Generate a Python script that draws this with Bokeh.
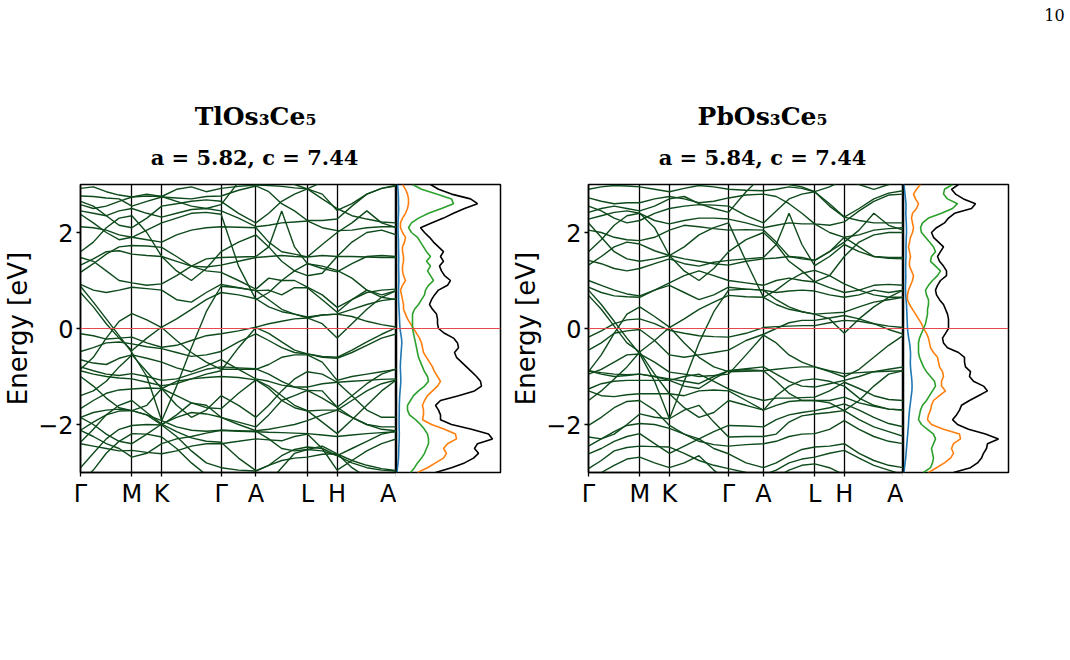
from bokeh.plotting import figure
from bokeh.models import Range1d, FixedTicker, Span, ColumnDataSource
from bokeh.layouts import column, row
from bokeh.embed import file_html
from bokeh.resources import INLINE
from bokeh.core.properties import value

# ---------------- data ----------------
k_labels = ["Γ", "M", "K", "Γ", "A", "L", "H", "A"]
tl_kticks = [0.0, 0.577, 0.911, 1.577, 1.968, 2.545, 2.879, 3.545]
pb_kticks = [0.0, 0.577, 0.911, 1.577, 1.970, 2.547, 2.880, 3.547]
tl_k = [0.0, 0.144, 0.289, 0.433, 0.577, 0.744, 0.911, 1.078, 1.244, 1.411, 1.577, 1.773,
        1.968, 2.112, 2.257, 2.401, 2.545, 2.712, 2.879, 3.045, 3.212, 3.378, 3.545]
pb_k = [0.0, 0.144, 0.289, 0.433, 0.577, 0.744, 0.911, 1.078, 1.244, 1.411, 1.577, 1.774,
        1.970, 2.114, 2.258, 2.403, 2.547, 2.714, 2.880, 3.047, 3.213, 3.380, 3.547]

# TlOs3Ce5 bands: energy (eV) at each k point of tl_k
tl_b01 = [2.92, 2.95, 2.85, 2.78, 2.74, 2.76, 2.75, 2.90, 2.95, 2.85, 2.92, 2.96, 2.99, 2.98, 2.96, 2.93, 2.91, 2.80, 2.46, 2.60, 2.80, 2.92, 2.99]
tl_b02 = [2.76, 2.75, 2.72, 2.70, 2.55, 2.65, 2.74, 2.72, 2.70, 2.75, 2.76, 2.88, 2.97, 2.85, 2.60, 2.45, 2.25, 2.25, 2.28, 2.55, 2.80, 2.92, 2.97]
tl_b03 = [2.58, 2.50, 2.55, 2.65, 2.74, 2.80, 2.75, 2.65, 2.55, 2.50, 2.58, 3.05, 3.30, 3.20, 3.10, 3.00, 2.91, 3.05, 3.20, 3.25, 3.30, 3.30, 3.30]
tl_b04 = [2.45, 2.40, 2.35, 2.45, 2.50, 2.40, 2.32, 2.40, 2.48, 2.50, 2.45, 2.30, 2.12, 2.15, 2.20, 2.22, 2.24, 2.10, 2.04, 2.05, 2.10, 2.12, 2.12]
tl_b05 = [2.38, 2.20, 2.00, 1.85, 1.90, 2.05, 2.20, 2.30, 2.40, 2.42, 2.38, 1.30, 0.60, 0.75, 1.00, 1.20, 1.35, 1.30, 1.21, 1.05, 0.80, 0.65, 0.60]
tl_b06 = [2.12, 2.10, 2.05, 1.95, 1.90, 1.85, 1.80, 1.95, 2.05, 2.10, 2.12, 2.11, 2.10, 1.80, 1.60, 1.55, 1.49, 1.75, 2.00, 2.20, 2.45, 2.20, 2.10]
tl_b07 = [1.48, 1.40, 1.20, 1.00, 0.95, 0.90, 0.93, 1.10, 1.30, 1.45, 1.48, 1.49, 1.50, 1.70, 2.45, 1.70, 1.35, 1.25, 1.18, 1.35, 1.50, 1.52, 1.50]
tl_b08 = [1.32, 1.45, 1.60, 1.62, 1.55, 1.52, 1.50, 1.40, 1.30, 1.28, 1.32, 1.40, 1.48, 1.50, 1.52, 1.50, 1.49, 1.52, 1.50, 1.50, 1.49, 1.48, 1.48]
tl_b09 = [1.17, 1.35, 1.55, 1.70, 1.73, 1.72, 1.69, 1.50, 1.30, 1.20, 1.17, 1.00, 0.82, 1.05, 1.00, 1.00, 0.86, 0.70, 0.44, 0.60, 0.75, 0.80, 0.82]
tl_b10 = [0.92, 0.80, 0.75, 0.80, 0.86, 0.83, 0.80, 0.60, 0.55, 0.75, 0.92, 0.85, 0.79, 0.80, 0.70, 0.85, 0.85, 0.60, 0.34, 0.60, 0.80, 0.70, 0.79]
tl_b11 = [0.75, 0.45, 0.10, -0.20, -0.46, -0.20, 0.03, 0.20, 0.40, 0.60, 0.75, 0.70, 0.62, 0.45, 0.35, 0.30, 0.24, 0.28, 0.30, 0.40, 0.50, 0.58, 0.62]
tl_b12 = [-0.11, -0.15, -0.22, -0.20, -0.18, -0.30, -0.39, -0.35, -0.25, -0.15, -0.11, -0.05, 0.03, 0.10, 0.15, 0.20, 0.22, 0.28, 0.30, 0.25, 0.15, 0.08, 0.03]
tl_b13 = [-0.48, -0.40, -0.30, -0.28, -0.32, -0.38, -0.42, -0.50, -0.58, -0.55, -0.48, -0.28, -0.11, -0.25, -0.40, -0.50, -0.53, -0.60, -0.62, -0.50, -0.35, -0.20, -0.11]
tl_b14 = [-0.85, -0.60, -0.20, 0.15, 0.31, 0.18, 0.02, -0.25, -0.50, -0.70, -0.85, -0.85, -0.85, -0.75, -0.60, -0.55, -0.55, -0.70, -1.08, -1.00, -0.95, -0.90, -0.85]
tl_b15 = [-0.65, -0.72, -0.75, -0.62, -0.55, -0.62, -0.70, -0.82, -0.90, -0.78, -0.65, -0.85, -1.05, -1.10, -1.18, -1.22, -1.22, -1.15, -1.12, -1.10, -1.08, -1.06, -1.05]
tl_b16 = [-0.80, -0.88, -0.95, -0.98, -0.94, -1.00, -1.08, -1.05, -0.95, -0.85, -0.80, -0.82, -0.84, -0.95, -1.10, -1.22, -1.29, -1.45, -1.64, -1.40, -1.15, -0.95, -0.84]
tl_b17 = [-0.88, -0.95, -1.00, -1.03, -1.05, -1.12, -1.19, -1.15, -1.05, -0.95, -0.88, -0.40, 0.02, -0.10, -0.28, -0.45, -0.53, -0.58, -0.60, -0.45, -0.28, -0.12, 0.02]
tl_b18 = [-1.67, -1.50, -1.35, -1.28, -1.26, -1.24, -1.25, -1.40, -1.55, -1.65, -1.67, -1.35, -1.07, -1.20, -1.40, -1.60, -1.71, -1.95, -2.19, -1.90, -1.60, -1.30, -1.07]
tl_b19 = [-2.37, -2.10, -1.80, -1.60, -1.50, -1.75, -1.99, -2.15, -2.28, -2.35, -2.37, -2.70, -2.96, -2.85, -2.75, -2.70, -2.68, -2.62, -2.61, -2.75, -2.85, -2.92, -2.96]
tl_b20 = [-1.85, -2.00, -2.20, -2.35, -2.40, -2.20, -1.99, -1.85, -1.75, -1.78, -1.85, -2.00, -2.13, -2.10, -2.05, -2.00, -1.92, -1.80, -1.70, -1.85, -2.00, -2.10, -2.13]
tl_b21 = [-2.12, -1.95, -1.80, -1.72, -1.71, -1.80, -1.92, -2.05, -2.12, -2.14, -2.12, -2.14, -2.15, -2.16, -2.17, -2.18, -2.19, -2.22, -2.25, -2.22, -2.19, -2.17, -2.15]
tl_b22 = [-2.90, -2.60, -2.30, -2.10, -2.02, -2.00, -2.01, -2.25, -2.55, -2.80, -2.90, -2.95, -2.97, -2.85, -2.65, -2.52, -2.47, -2.50, -2.65, -2.80, -2.90, -2.95, -2.97]
tl_b23 = [-3.20, -2.95, -2.60, -2.35, -2.19, -2.20, -2.26, -2.50, -2.80, -3.05, -3.20, -3.25, -3.30, -3.20, -2.90, -2.60, -2.52, -2.45, -2.61, -2.90, -3.10, -3.20, -3.30]
tl_b24 = [-2.40, -2.45, -2.50, -2.55, -2.54, -2.58, -2.61, -2.55, -2.45, -2.40, -2.40, -2.35, -2.30, -2.32, -2.34, -2.25, -2.20, -2.50, -2.95, -2.75, -2.55, -2.40, -2.30]
tl_b25 = [-1.00, -1.20, -1.45, -1.65, -1.71, -1.60, -1.25, -1.10, -1.05, -1.02, -1.00, -1.02, -1.07, -1.25, -1.50, -1.65, -1.72, -1.70, -1.70, -1.50, -1.30, -1.15, -1.07]
tl_b26 = [-2.12, -2.25, -2.40, -2.50, -2.68, -2.60, -2.40, -2.30, -2.25, -2.18, -2.12, -2.13, -2.14, -2.30, -2.50, -2.55, -2.52, -2.55, -2.65, -2.50, -2.35, -2.20, -2.14]
tl_b27 = [-1.85, -1.75, -1.70, -1.68, -1.71, -1.80, -2.01, -1.80, -1.55, -1.60, -1.85, -1.95, -2.05, -1.80, -1.50, -1.40, -1.29, -1.30, -1.64, -1.85, -2.00, -2.05, -2.05]
tl_b28 = [0.88, 0.55, 0.20, -0.15, -0.50, -1.00, -1.92, -1.20, -0.40, 0.35, 0.88, 0.85, 0.79, 0.60, 0.40, 0.30, 0.22, 0.10, -0.20, 0.10, 0.40, 0.65, 0.79]
tl_b29 = [1.60, 1.80, 2.10, 2.30, 2.35, 2.00, 1.50, 1.20, 1.00, 1.25, 1.60, 1.80, 1.95, 1.70, 1.40, 1.20, 1.10, 1.15, 1.50, 1.80, 2.00, 2.05, 1.95]
tl_b30 = [-1.40, -1.30, -1.10, -0.80, -0.55, -0.90, -1.25, -1.60, -1.85, -1.70, -1.40, -1.60, -1.85, -1.60, -1.30, -1.05, -0.90, -0.95, -1.12, -1.40, -1.70, -1.85, -1.85]
tl_b31 = [2.65, 2.55, 2.35, 2.15, 2.10, 2.30, 2.55, 2.60, 2.65, 2.68, 2.65, 2.40, 2.20, 2.40, 2.65, 2.80, 2.91, 2.70, 2.50, 2.35, 2.28, 2.22, 2.20]

# PbOs3Ce5 bands: energy (eV) at each k point of pb_k
pb_b01 = [2.90, 2.95, 2.98, 2.97, 2.95, 2.90, 2.85, 2.92, 2.98, 2.95, 2.90, 2.88, 2.87, 2.90, 2.95, 2.92, 2.85, 2.60, 2.32, 2.50, 2.70, 2.82, 2.87]
pb_b02 = [2.72, 2.65, 2.60, 2.62, 2.62, 2.70, 2.75, 2.70, 2.62, 2.65, 2.72, 2.78, 2.80, 2.75, 2.60, 2.40, 2.18, 2.15, 2.22, 2.45, 2.65, 2.78, 2.80]
pb_b03 = [2.42, 2.50, 2.55, 2.50, 2.45, 2.55, 2.70, 2.75, 2.60, 2.50, 2.42, 2.85, 3.20, 3.10, 3.00, 2.95, 2.85, 2.95, 3.10, 3.00, 2.90, 3.00, 3.20]
pb_b04 = [2.28, 2.35, 2.42, 2.45, 2.40, 2.25, 2.18, 2.25, 2.30, 2.30, 2.28, 2.20, 2.10, 2.15, 2.20, 2.18, 2.18, 2.00, 1.90, 1.95, 2.05, 2.08, 2.10]
pb_b05 = [2.20, 1.90, 1.60, 1.45, 1.40, 1.45, 1.52, 1.70, 1.95, 2.10, 2.20, 1.40, 0.65, 0.80, 1.00, 1.15, 1.21, 1.10, 0.93, 0.80, 0.70, 0.65, 0.65]
pb_b06 = [2.05, 2.00, 1.90, 1.85, 1.83, 1.90, 2.05, 2.15, 2.12, 2.08, 2.05, 2.06, 2.05, 1.80, 1.50, 1.45, 1.42, 1.60, 1.80, 2.05, 2.40, 2.15, 2.05]
pb_b07 = [1.42, 1.35, 1.25, 1.20, 1.25, 1.35, 1.45, 1.35, 1.30, 1.38, 1.42, 1.45, 1.48, 1.75, 2.40, 1.75, 1.31, 1.50, 1.75, 1.60, 1.50, 1.48, 1.48]
pb_b08 = [1.32, 1.50, 1.70, 1.80, 1.76, 1.62, 1.52, 1.45, 1.40, 1.35, 1.32, 1.40, 1.45, 1.47, 1.50, 1.48, 1.42, 1.60, 1.90, 1.70, 1.50, 1.46, 1.45]
pb_b09 = [1.00, 0.90, 0.80, 0.72, 0.68, 0.80, 0.95, 1.10, 1.20, 1.10, 1.00, 0.95, 0.90, 1.00, 1.05, 1.00, 0.97, 0.85, 0.75, 0.80, 0.90, 0.92, 0.90]
pb_b10 = [0.86, 0.75, 0.68, 0.66, 0.65, 0.80, 0.90, 0.75, 0.60, 0.70, 0.86, 0.82, 0.80, 0.75, 0.78, 0.80, 0.78, 0.70, 0.65, 0.70, 0.80, 0.75, 0.80]
pb_b11 = [0.69, 0.40, 0.05, -0.30, -0.49, -0.25, 0.02, 0.20, 0.40, 0.55, 0.69, 0.66, 0.65, 0.50, 0.40, 0.35, 0.30, 0.32, 0.34, 0.45, 0.55, 0.60, 0.65]
pb_b12 = [-0.90, -0.55, -0.10, 0.30, 0.45, 0.25, 0.03, -0.30, -0.60, -0.80, -0.90, -0.89, -0.88, -0.85, -0.82, -0.80, -0.80, -0.88, -0.94, -0.92, -0.90, -0.89, -0.88]
pb_b13 = [-0.18, -0.05, 0.10, 0.18, 0.20, 0.10, -0.04, -0.10, -0.15, -0.17, -0.18, -0.10, 0.02, 0.04, 0.05, 0.06, 0.06, 0.12, 0.17, 0.15, 0.10, 0.05, 0.02]
pb_b14 = [-0.45, -0.30, -0.10, -0.05, -0.02, -0.25, -0.55, -0.60, -0.55, -0.50, -0.45, -0.25, -0.12, 0.00, 0.12, 0.17, 0.17, 0.22, 0.27, 0.20, 0.10, -0.02, -0.12]
pb_b15 = [-0.95, -0.85, -0.70, -0.55, -0.53, -0.70, -0.91, -0.95, -1.00, -0.98, -0.95, -0.55, -0.14, -0.30, -0.55, -0.70, -0.80, -0.90, -1.01, -0.85, -0.60, -0.35, -0.14]
pb_b16 = [-0.88, -0.95, -1.00, -0.98, -0.95, -1.00, -1.05, -1.10, -1.15, -1.00, -0.88, -0.84, -0.80, -0.95, -1.10, -1.20, -1.22, -1.15, -1.08, -1.00, -0.90, -0.85, -0.80]
pb_b17 = [-1.26, -1.15, -1.10, -1.08, -1.08, -1.08, -1.08, -1.00, -0.95, -1.10, -1.26, -1.40, -1.50, -1.45, -1.45, -1.44, -1.43, -1.30, -1.12, -1.25, -1.40, -1.48, -1.50]
pb_b18 = [-1.30, -1.40, -1.42, -1.38, -1.36, -1.36, -1.36, -1.40, -1.30, -1.28, -1.30, -1.50, -1.70, -1.60, -1.52, -1.50, -1.50, -1.50, -1.43, -1.55, -1.62, -1.68, -1.70]
pb_b19 = [-2.02, -1.85, -1.65, -1.52, -1.50, -1.70, -2.02, -2.20, -2.30, -2.15, -2.02, -2.03, -2.05, -1.90, -1.80, -1.75, -1.71, -1.65, -1.57, -1.70, -1.85, -1.98, -2.05]
pb_b20 = [-2.26, -2.30, -2.20, -2.00, -1.78, -1.85, -1.88, -1.70, -1.60, -1.95, -2.26, -2.25, -2.25, -2.20, -1.95, -1.82, -1.78, -1.75, -1.71, -1.90, -2.05, -2.15, -2.25]
pb_b21 = [-2.45, -2.30, -2.15, -2.02, -1.98, -2.00, -2.08, -2.20, -2.35, -2.42, -2.45, -2.42, -2.40, -2.35, -2.25, -2.20, -2.19, -2.10, -1.92, -2.10, -2.25, -2.35, -2.40]
pb_b22 = [-2.61, -2.50, -2.35, -2.25, -2.19, -2.40, -2.60, -2.45, -2.30, -2.50, -2.61, -2.80, -2.90, -2.80, -2.65, -2.52, -2.47, -2.45, -2.40, -2.60, -2.75, -2.85, -2.90]
pb_b23 = [-2.92, -2.75, -2.55, -2.48, -2.45, -2.46, -2.47, -2.60, -2.75, -2.85, -2.92, -3.00, -3.05, -2.95, -2.80, -2.72, -2.68, -2.60, -2.54, -2.70, -2.85, -2.95, -3.05]
pb_b24 = [-3.20, -3.00, -2.85, -2.72, -2.68, -2.80, -2.90, -2.80, -2.65, -2.95, -3.20, -3.20, -3.20, -3.10, -2.95, -2.85, -2.82, -2.90, -3.05, -3.10, -3.15, -3.20, -3.20]
pb_b25 = [-0.88, -0.92, -0.95, -0.96, -0.95, -1.00, -1.08, -1.20, -1.25, -1.05, -0.88, -0.86, -0.88, -1.10, -1.35, -1.50, -1.50, -1.55, -1.71, -1.50, -1.20, -0.95, -0.88]
pb_b26 = [0.80, 0.50, 0.15, -0.20, -0.53, -1.10, -1.88, -1.10, -0.30, 0.35, 0.80, 0.82, 0.80, 0.60, 0.45, 0.35, 0.30, 0.20, -0.10, 0.20, 0.45, 0.65, 0.80]
pb_b27 = [1.60, 1.85, 2.15, 2.35, 2.40, 2.10, 1.52, 1.20, 1.00, 1.25, 1.60, 1.85, 2.00, 1.75, 1.40, 1.20, 0.97, 1.10, 1.50, 1.80, 1.95, 2.00, 2.00]
pb_b28 = [-1.50, -1.30, -1.05, -0.80, -0.49, -0.95, -1.36, -1.65, -1.85, -1.75, -1.50, -1.60, -1.70, -1.40, -1.20, -1.08, -1.05, -1.10, -1.20, -1.45, -1.60, -1.68, -1.70]
pb_b29 = [2.55, 2.45, 2.30, 2.20, 2.25, 2.40, 2.50, 2.55, 2.58, 2.57, 2.55, 2.35, 2.20, 2.45, 2.70, 2.80, 2.85, 2.55, 2.32, 2.25, 2.20, 2.20, 2.20]

tl_bands = [tl_b01, tl_b02, tl_b03, tl_b04, tl_b05, tl_b06, tl_b07, tl_b08, tl_b09, tl_b10, tl_b11, tl_b12, tl_b13,
            tl_b14, tl_b15, tl_b16, tl_b17, tl_b18, tl_b19, tl_b20, tl_b21, tl_b22, tl_b23, tl_b24, tl_b25, tl_b26,
            tl_b27, tl_b28, tl_b29, tl_b30, tl_b31]
pb_bands = [pb_b01, pb_b02, pb_b03, pb_b04, pb_b05, pb_b06, pb_b07, pb_b08, pb_b09, pb_b10, pb_b11, pb_b12, pb_b13,
            pb_b14, pb_b15, pb_b16, pb_b17, pb_b18, pb_b19, pb_b20, pb_b21, pb_b22, pb_b23, pb_b24, pb_b25, pb_b26,
            pb_b27, pb_b28, pb_b29]

# density of states (arbitrary units) on an energy grid (eV)
dos_E = [3.0, 2.9, 2.8, 2.7, 2.6, 2.5, 2.4, 2.3, 2.2, 2.1, 2.0, 1.9, 1.8, 1.7, 1.6, 1.5, 1.4, 1.3, 1.2, 1.1,
         1.0, 0.9, 0.8, 0.7, 0.6, 0.5, 0.4, 0.3, 0.2, 0.1, 0.0, -0.1, -0.2, -0.3, -0.4, -0.5, -0.6, -0.7, -0.8, -0.9,
         -1.0, -1.1, -1.2, -1.3, -1.4, -1.5, -1.6, -1.7, -1.8, -1.9, -2.0, -2.1, -2.2, -2.3, -2.4, -2.5, -2.6, -2.7, -2.8, -2.9, -3.0]
tl_dos_total = [34, 42, 55, 74, 81, 68, 57, 47, 35, 24, 28, 33, 37, 42, 47, 44, 47, 43, 45, 48,
                54, 51, 42, 38, 35, 33, 36, 40, 41, 41, 42, 48, 57, 61, 62, 58, 60, 65, 70, 75,
                80, 84, 85, 78, 62, 44, 39, 42, 44, 44, 55, 75, 92, 96, 81, 78, 82, 77, 68, 55, 39]
tl_dos_green = [16, 25, 40, 55, 57, 45, 32, 22, 15, 12, 15, 21, 24, 27, 30, 34, 30, 34, 31, 34,
                37, 32, 29, 28, 25, 22, 18, 16, 16, 16, 16, 17, 18, 19, 20, 21, 22, 24, 26, 28,
                31, 32, 28, 22, 17, 14, 11, 11, 13, 19, 24, 28, 31, 32, 32, 30, 28, 25, 21, 18, 14]
tl_dos_orange = [6, 9, 11, 12, 12, 11, 9, 6, 4, 4, 6, 9, 8, 6, 6, 7, 7, 6, 6, 7,
                 9, 6, 4, 5, 6, 7, 7, 9, 11, 14, 17, 20, 23, 25, 26, 27, 30, 33, 36, 38,
                 41, 44, 41, 36, 31, 28, 26, 27, 27, 26, 35, 48, 59, 60, 51, 47, 50, 47, 39, 31, 21]
tl_dos_blue = [1.0, 1.5, 1.8, 2.0, 2.0, 2.2, 2.0, 1.8, 1.6, 1.5, 1.6, 1.8, 2.0, 2.0, 2.1, 2.2, 2.2, 2.1, 2.2, 2.3,
               2.4, 2.2, 2.0, 2.0, 2.1, 2.3, 2.5, 2.8, 3.0, 3.2, 3.5, 4.2, 5.0, 5.3, 5.0, 4.6, 4.3, 4.0, 3.8, 4.0,
               4.2, 4.3, 4.0, 3.6, 3.2, 3.0, 2.8, 2.8, 2.7, 2.6, 2.6, 2.7, 2.8, 2.7, 2.5, 2.3, 2.2, 2.0, 1.6, 1.0, 0.5]
pb_dos_total = [55, 48, 52, 60, 72, 68, 51, 45, 41, 33, 28, 30, 35, 40, 37, 34, 36, 40, 43, 43,
                37, 34, 32, 33, 36, 40, 42, 44, 45, 45, 45, 42, 39, 40, 44, 55, 61, 61, 62, 67,
                66, 70, 80, 84, 75, 66, 58, 56, 53, 49, 54, 65, 82, 95, 84, 83, 80, 78, 74, 67, 50]
pb_dos_green = [49, 41, 40, 44, 54, 49, 38, 25, 19, 17, 18, 22, 26, 30, 32, 28, 27, 32, 37, 34,
                29, 25, 22, 23, 25, 25, 24, 24, 23, 22, 20, 18, 16, 15, 15, 15, 16, 18, 20, 23,
                27, 31, 32, 29, 26, 23, 19, 17, 16, 15, 18, 24, 30, 32, 30, 28, 29, 30, 29, 27, 20]
pb_dos_orange = [17, 13, 10, 12, 15, 13, 9, 8, 9, 10, 9, 7, 6, 5, 6, 7, 6, 6, 8, 10,
                 9, 7, 5, 4, 4, 6, 9, 12, 15, 18, 20, 23, 25, 26, 27, 30, 34, 35, 36, 39,
                 40, 38, 38, 42, 36, 30, 28, 27, 25, 24, 28, 40, 56, 57, 50, 48, 50, 47, 41, 33, 25]
pb_dos_blue = [0.5, 1.0, 1.5, 2.0, 2.5, 2.5, 2.3, 2.5, 2.8, 3.0, 3.0, 2.8, 2.6, 2.5, 2.5, 2.5, 2.3, 2.2, 2.2, 2.3,
               2.2, 2.0, 2.0, 2.2, 2.6, 3.0, 3.2, 3.4, 3.6, 3.8, 4.0, 4.5, 5.2, 6.0, 6.6, 7.0, 7.0, 6.8, 7.0, 7.4,
               8.0, 8.4, 8.6, 8.4, 7.8, 7.2, 6.6, 6.0, 5.6, 5.2, 5.0, 4.6, 4.2, 3.8, 3.4, 3.0, 2.6, 2.2, 1.6, 1.0, 0.4]

# ---------------- style ----------------
BAND_COLOR = "#0e4a1b"
FERMI_COLOR = "#e5484d"
SERIF = "DejaVu Serif"
SANS = "DejaVu Sans"


def band_fig(width, border_left, kticks, kpts, bands):
    p = figure(width=width, height=340, x_range=Range1d(0, kticks[-1]), y_range=Range1d(-3, 3),
               output_backend="svg", toolbar_location=None,
               min_border_left=border_left, min_border_right=0, min_border_top=4, min_border_bottom=48)
    src = ColumnDataSource(dict(xs=[kpts] * len(bands), ys=bands))
    p.multi_line("xs", "ys", source=src, line_color=BAND_COLOR, line_width=1.4)
    p.add_layout(Span(location=0, dimension="width", line_color=FERMI_COLOR, line_width=1.1))
    p.xgrid.ticker = FixedTicker(ticks=kticks)
    p.xgrid.grid_line_color = "black"
    p.xgrid.grid_line_width = 1.3
    p.ygrid.visible = False
    p.xaxis.ticker = FixedTicker(ticks=kticks)
    p.xaxis.major_label_overrides = dict(zip(kticks, k_labels))
    p.yaxis.ticker = FixedTicker(ticks=[-2, 0, 2])
    p.yaxis.major_label_overrides = {-2: "−2", 0: "0", 2: "2"}
    p.yaxis.axis_label = "Energy [eV]"
    p.yaxis.axis_label_text_font = SANS
    p.yaxis.axis_label_text_font_style = "normal"
    p.yaxis.axis_label_text_font_size = "26px"
    p.yaxis.axis_label_text_color = "black"
    p.yaxis.axis_label_standoff = 2
    for ax in (p.xaxis, p.yaxis):
        ax.major_label_text_font = SANS
        ax.major_label_text_font_size = "24px"
        ax.major_label_text_color = "black"
        ax.major_label_standoff = 3
        ax.major_tick_out = 4
        ax.major_tick_in = 0
        ax.minor_tick_out = 0
        ax.minor_tick_in = 0
        ax.axis_line_width = 1.5
        ax.major_tick_line_width = 1.3
    p.outline_line_color = "black"
    p.outline_line_width = 1.5
    return p


def dos_fig(width, border_right, xmax, total, green, orange, blue):
    d = figure(width=width, height=340, x_range=Range1d(0, xmax), y_range=Range1d(-3, 3),
               output_backend="svg", toolbar_location=None,
               x_axis_location=None, y_axis_location=None,
               min_border_left=0, min_border_right=border_right, min_border_top=4, min_border_bottom=48)
    d.grid.visible = False
    d.line(blue, dos_E, line_color="#1f77b4", line_width=1.6)
    d.line(orange, dos_E, line_color="#ff7f0e", line_width=1.6)
    d.line(green, dos_E, line_color="#2ca02c", line_width=1.6)
    d.line(total, dos_E, line_color="black", line_width=1.6)
    d.add_layout(Span(location=0, dimension="width", line_color=FERMI_COLOR, line_width=1.1))
    d.outline_line_color = "black"
    d.outline_line_width = 1.5
    return d


def blank(width, height, y0, y1):
    f = figure(width=width, height=height, x_range=Range1d(0, width), y_range=Range1d(y1, y0),
               output_backend="svg", toolbar_location=None, x_axis_location=None, y_axis_location=None,
               min_border=0)
    f.grid.visible = False
    f.outline_line_color = None
    return f


# header: page number and panel titles
hdr = blank(1070, 180, 0, 180)
hdr.text(x=[1054], y=[14], text=["10"], text_font=value(SERIF), text_font_size="16px",
         text_align="center", text_baseline="middle", text_color="black")
hdr.text(x=[255, 762], y=[116, 116], text=["TlOs₃Ce₅", "PbOs₃Ce₅"], text_font=value(SERIF),
         text_font_style="bold", text_font_size="25px", text_align="center", text_baseline="middle",
         text_color="black")
hdr.text(x=[254, 762], y=[157, 157], text=["a = 5.82, c = 7.44", "a = 5.84, c = 7.44"],
         text_font=value(SERIF), text_font_style="bold", text_font_size="21px", text_align="center",
         text_baseline="middle", text_color="black")

tl_band = band_fig(396, 80, tl_kticks, tl_k, tl_bands)
tl_dos = dos_fig(108, 4, 104, tl_dos_total, tl_dos_green, tl_dos_orange, tl_dos_blue)
pb_band = band_fig(399, 84, pb_kticks, pb_k, pb_bands)
pb_dos = dos_fig(167, 62, 105, pb_dos_total, pb_dos_green, pb_dos_orange, pb_dos_blue)

footer = blank(1070, 140, 520, 660)

layout = column(hdr, row(tl_band, tl_dos, pb_band, pb_dos, spacing=0), footer, spacing=0)

open("out.html", "w").write(file_html(layout, INLINE))
